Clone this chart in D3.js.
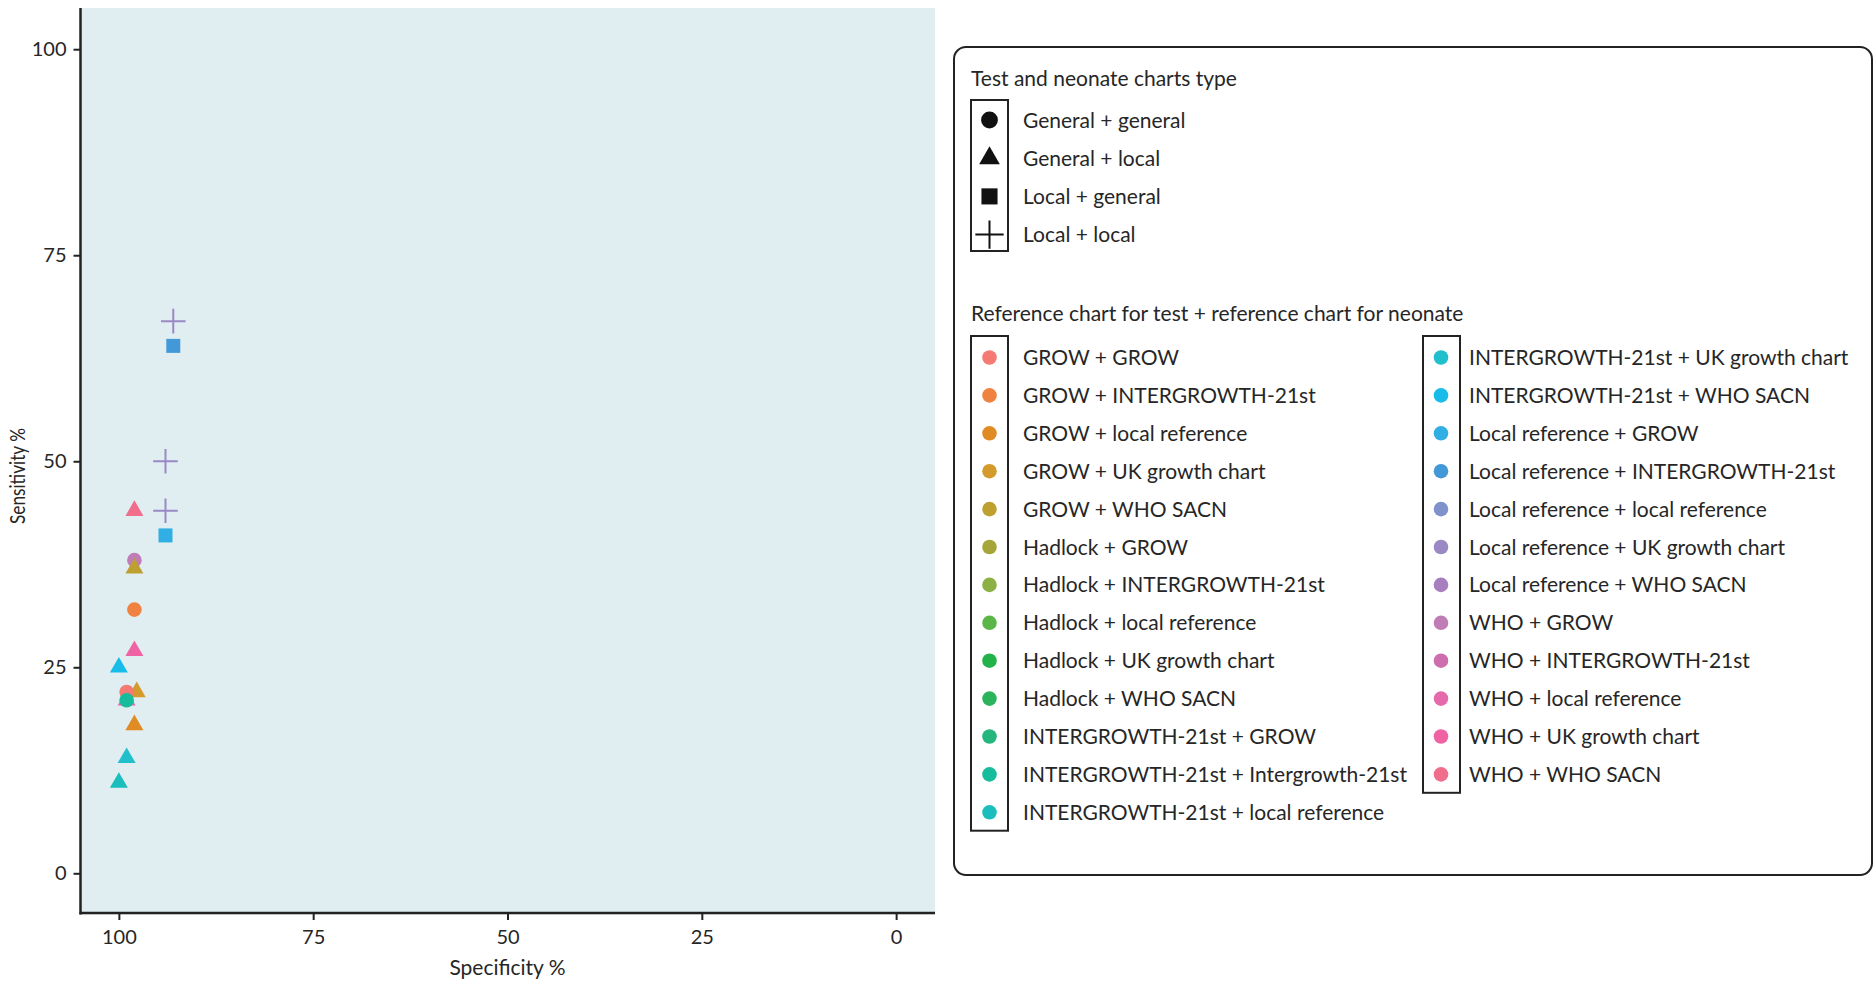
<!DOCTYPE html>
<html>
<head>
<meta charset="utf-8">
<script src="https://cdn.jsdelivr.net/npm/d3@7"></script>
<style>
  body { margin: 0; background: #fff; }
  svg text { font-family: Lato, "Open Sans", sans-serif; fill: #262626; }
</style>
</head>
<body>
<div id="chart"></div>
<script>
// legend categories
const refCharts = [
  "GROW + GROW", "GROW + INTERGROWTH-21st", "GROW + local reference", "GROW + UK growth chart",
  "GROW + WHO SACN", "Hadlock + GROW", "Hadlock + INTERGROWTH-21st", "Hadlock + local reference",
  "Hadlock + UK growth chart", "Hadlock + WHO SACN", "INTERGROWTH-21st + GROW",
  "INTERGROWTH-21st + Intergrowth-21st", "INTERGROWTH-21st + local reference",
  "INTERGROWTH-21st + UK growth chart", "INTERGROWTH-21st + WHO SACN", "Local reference + GROW",
  "Local reference + INTERGROWTH-21st", "Local reference + local reference",
  "Local reference + UK growth chart", "Local reference + WHO SACN", "WHO + GROW",
  "WHO + INTERGROWTH-21st", "WHO + local reference", "WHO + UK growth chart", "WHO + WHO SACN"
];
const chartTypes = ["General + general", "General + local", "Local + general", "Local + local"];

const xTicks = [100, 75, 50, 25, 0];
const yTicks = [0, 25, 50, 75, 100];

// points (drawing order)
const pointRef = [
  "WHO + local reference", "GROW + UK growth chart", "GROW + GROW", "INTERGROWTH-21st + Intergrowth-21st",
  "WHO + GROW", "GROW + WHO SACN", "GROW + INTERGROWTH-21st", "WHO + WHO SACN", "WHO + UK growth chart",
  "GROW + local reference", "INTERGROWTH-21st + WHO SACN", "INTERGROWTH-21st + UK growth chart",
  "INTERGROWTH-21st + local reference", "Local reference + GROW", "Local reference + INTERGROWTH-21st",
  "Local reference + UK growth chart", "Local reference + UK growth chart", "Local reference + UK growth chart"
];
const pointType = [
  "General + local", "General + local", "General + general", "General + general",
  "General + general", "General + local", "General + general", "General + local", "General + local",
  "General + local", "General + local", "General + local",
  "General + local", "Local + general", "Local + general",
  "Local + local", "Local + local", "Local + local"
];
const pointSpec = [99, 97.7, 99, 99, 98, 98, 98, 98, 98, 98, 100, 99, 100, 94, 93, 93, 94, 94];
const pointSens = [21, 22, 22, 21, 38, 37, 32, 44, 27, 18, 25, 14, 11, 41, 64, 67, 50, 44];

// colours as seen in the picture
const palette = [
  "#f57a73", "#ef8241", "#e08b24", "#d49a2b", "#bea030", "#a6a53a", "#8bb043", "#5bb648",
  "#22b24a", "#2bb35c", "#25b67e", "#17bc9c", "#1bbdbd", "#1fbfcb", "#17bde8", "#31aee3",
  "#4399d7", "#7f92cc", "#9a89c4", "#a77fbf", "#c07cb5", "#cd6fae", "#e56aab", "#ef62a4", "#f06e8c"
];

const width = 1876;
const height = 983;

const color = d3.scaleOrdinal().domain(refCharts).range(palette);

const svg = d3.select("#chart")
  .append("svg")
    .attr("width", width)
    .attr("height", height);

const panel = { left: 80, right: 935, top: 8, bottom: 914.5 };

const x = d3.scaleLinear().domain([105, -5]).range([panel.left, panel.right]);
const y = d3.scaleLinear().domain([-5, 105]).range([panel.bottom, panel.top]);

svg.append("rect")
  .attr("x", panel.left)
  .attr("y", panel.top)
  .attr("width", panel.right - panel.left)
  .attr("height", panel.bottom - panel.top)
  .attr("fill", "#e0edf1");

// axes
const gx = svg.append("g")
  .attr("transform", `translate(0, ${panel.bottom - 1.5})`)
  .call(d3.axisBottom(x).tickValues(xTicks).tickSize(7).tickPadding(10))
  .call(g => g.select(".domain").remove());
gx.selectAll("line").attr("stroke", "#222").attr("stroke-width", 2);
gx.selectAll("text").style("font-size", "20px").attr("fill", "#262626");

const gy = svg.append("g")
  .attr("transform", `translate(${panel.left + 0.5}, 0)`)
  .call(d3.axisLeft(y).tickValues(yTicks).tickSize(7).tickPadding(7))
  .call(g => g.select(".domain").remove());
gy.selectAll("line").attr("stroke", "#222").attr("stroke-width", 2);
gy.selectAll("text").style("font-size", "20px").attr("fill", "#262626");

svg.append("line")
  .attr("x1", panel.left + 0.5).attr("x2", panel.left + 0.5)
  .attr("y1", panel.top).attr("y2", panel.bottom)
  .attr("stroke", "#222").attr("stroke-width", 2.5);
svg.append("line")
  .attr("x1", panel.left - 0.5).attr("x2", panel.right)
  .attr("y1", panel.bottom - 1.5).attr("y2", panel.bottom - 1.5)
  .attr("stroke", "#222").attr("stroke-width", 2.5);

svg.append("text")
  .attr("x", (panel.left + panel.right) / 2)
  .attr("y", 975)
  .attr("text-anchor", "middle")
  .style("font-size", "21px")
  .text("Specificity %");

// the rotated title is narrower in the original
svg.append("text")
  .attr("transform", `translate(25, 476) rotate(-90) scale(0.82, 1)`)
  .attr("text-anchor", "middle")
  .style("font-size", "21px")
  .text("Sensitivity %");

// shapes
const drawShape = (g, type, fill, scale) => {
  if (type === "Local + local") {
    const a = 12.3 * scale;
    g.append("path")
      .attr("d", `M${-a},0H${a}M0,${-a}V${a}`)
      .attr("stroke", fill)
      .attr("stroke-width", 2)
      .attr("fill", "none");
    return;
  }
  const sym = {
    "General + general": [d3.symbolCircle, 168],
    "General + local": [d3.symbolTriangle, 140],
    "Local + general": [d3.symbolSquare, 196]
  }[type];
  g.append("path")
    .attr("d", d3.symbol().type(sym[0]).size(sym[1] * scale * scale)())
    .attr("fill", fill);
};

const points = pointRef.map((r, i) => ({ ref: r, type: pointType[i], spec: pointSpec[i], sens: pointSens[i] }));

svg.append("g")
  .selectAll("g")
  .data(points)
  .enter()
  .append("g")
    .attr("transform", d => `translate(${x(d.spec)}, ${y(d.sens)})`)
    .each(function(d) {
      drawShape(d3.select(this), d.type, color(d.ref), 1);
    });

// legend
const legend = svg.append("g");
legend.append("rect")
  .attr("x", 954)
  .attr("y", 47)
  .attr("width", 918)
  .attr("height", 828)
  .attr("rx", 12)
  .attr("fill", "#fff")
  .attr("stroke", "#222")
  .attr("stroke-width", 2);

legend.append("text")
  .attr("x", 971)
  .attr("y", 86)
  .style("font-size", "21px")
  .text("Test and neonate charts type");

const rowH = 37.9;
legend.append("rect")
  .attr("x", 971).attr("y", 100)
  .attr("width", 37).attr("height", 151)
  .attr("fill", "none").attr("stroke", "#222").attr("stroke-width", 2);

chartTypes.forEach((t, i) => {
  const cy = 120 + i * 38.2;
  const g = legend.append("g").attr("transform", `translate(989.5, ${cy})`);
  drawShape(g, t, "#111", 1.15);
  legend.append("text")
    .attr("x", 1023)
    .attr("y", cy)
    .attr("dy", "0.36em")
    .style("font-size", "21px")
    .text(t);
});

legend.append("text")
  .attr("x", 971)
  .attr("y", 321)
  .style("font-size", "21px")
  .text("Reference chart for test + reference chart for neonate");

const col1 = refCharts.slice(0, 13);
const col2 = refCharts.slice(13);
[[col1, 971, 989.5, 1023], [col2, 1423, 1441, 1469]].forEach(([items, bx, dx, tx]) => {
  legend.append("rect")
    .attr("x", bx).attr("y", 336)
    .attr("width", 37).attr("height", items.length * rowH + 2)
    .attr("fill", "none").attr("stroke", "#222").attr("stroke-width", 2);
  items.forEach((name, i) => {
    const cy = 357.5 + i * rowH;
    legend.append("circle")
      .attr("cx", dx).attr("cy", cy).attr("r", 7.3)
      .attr("fill", color(name));
    legend.append("text")
      .attr("x", tx)
      .attr("y", cy)
      .attr("dy", "0.36em")
      .style("font-size", "21px")
      .text(name);
  });
});
</script>
</body>
</html>
